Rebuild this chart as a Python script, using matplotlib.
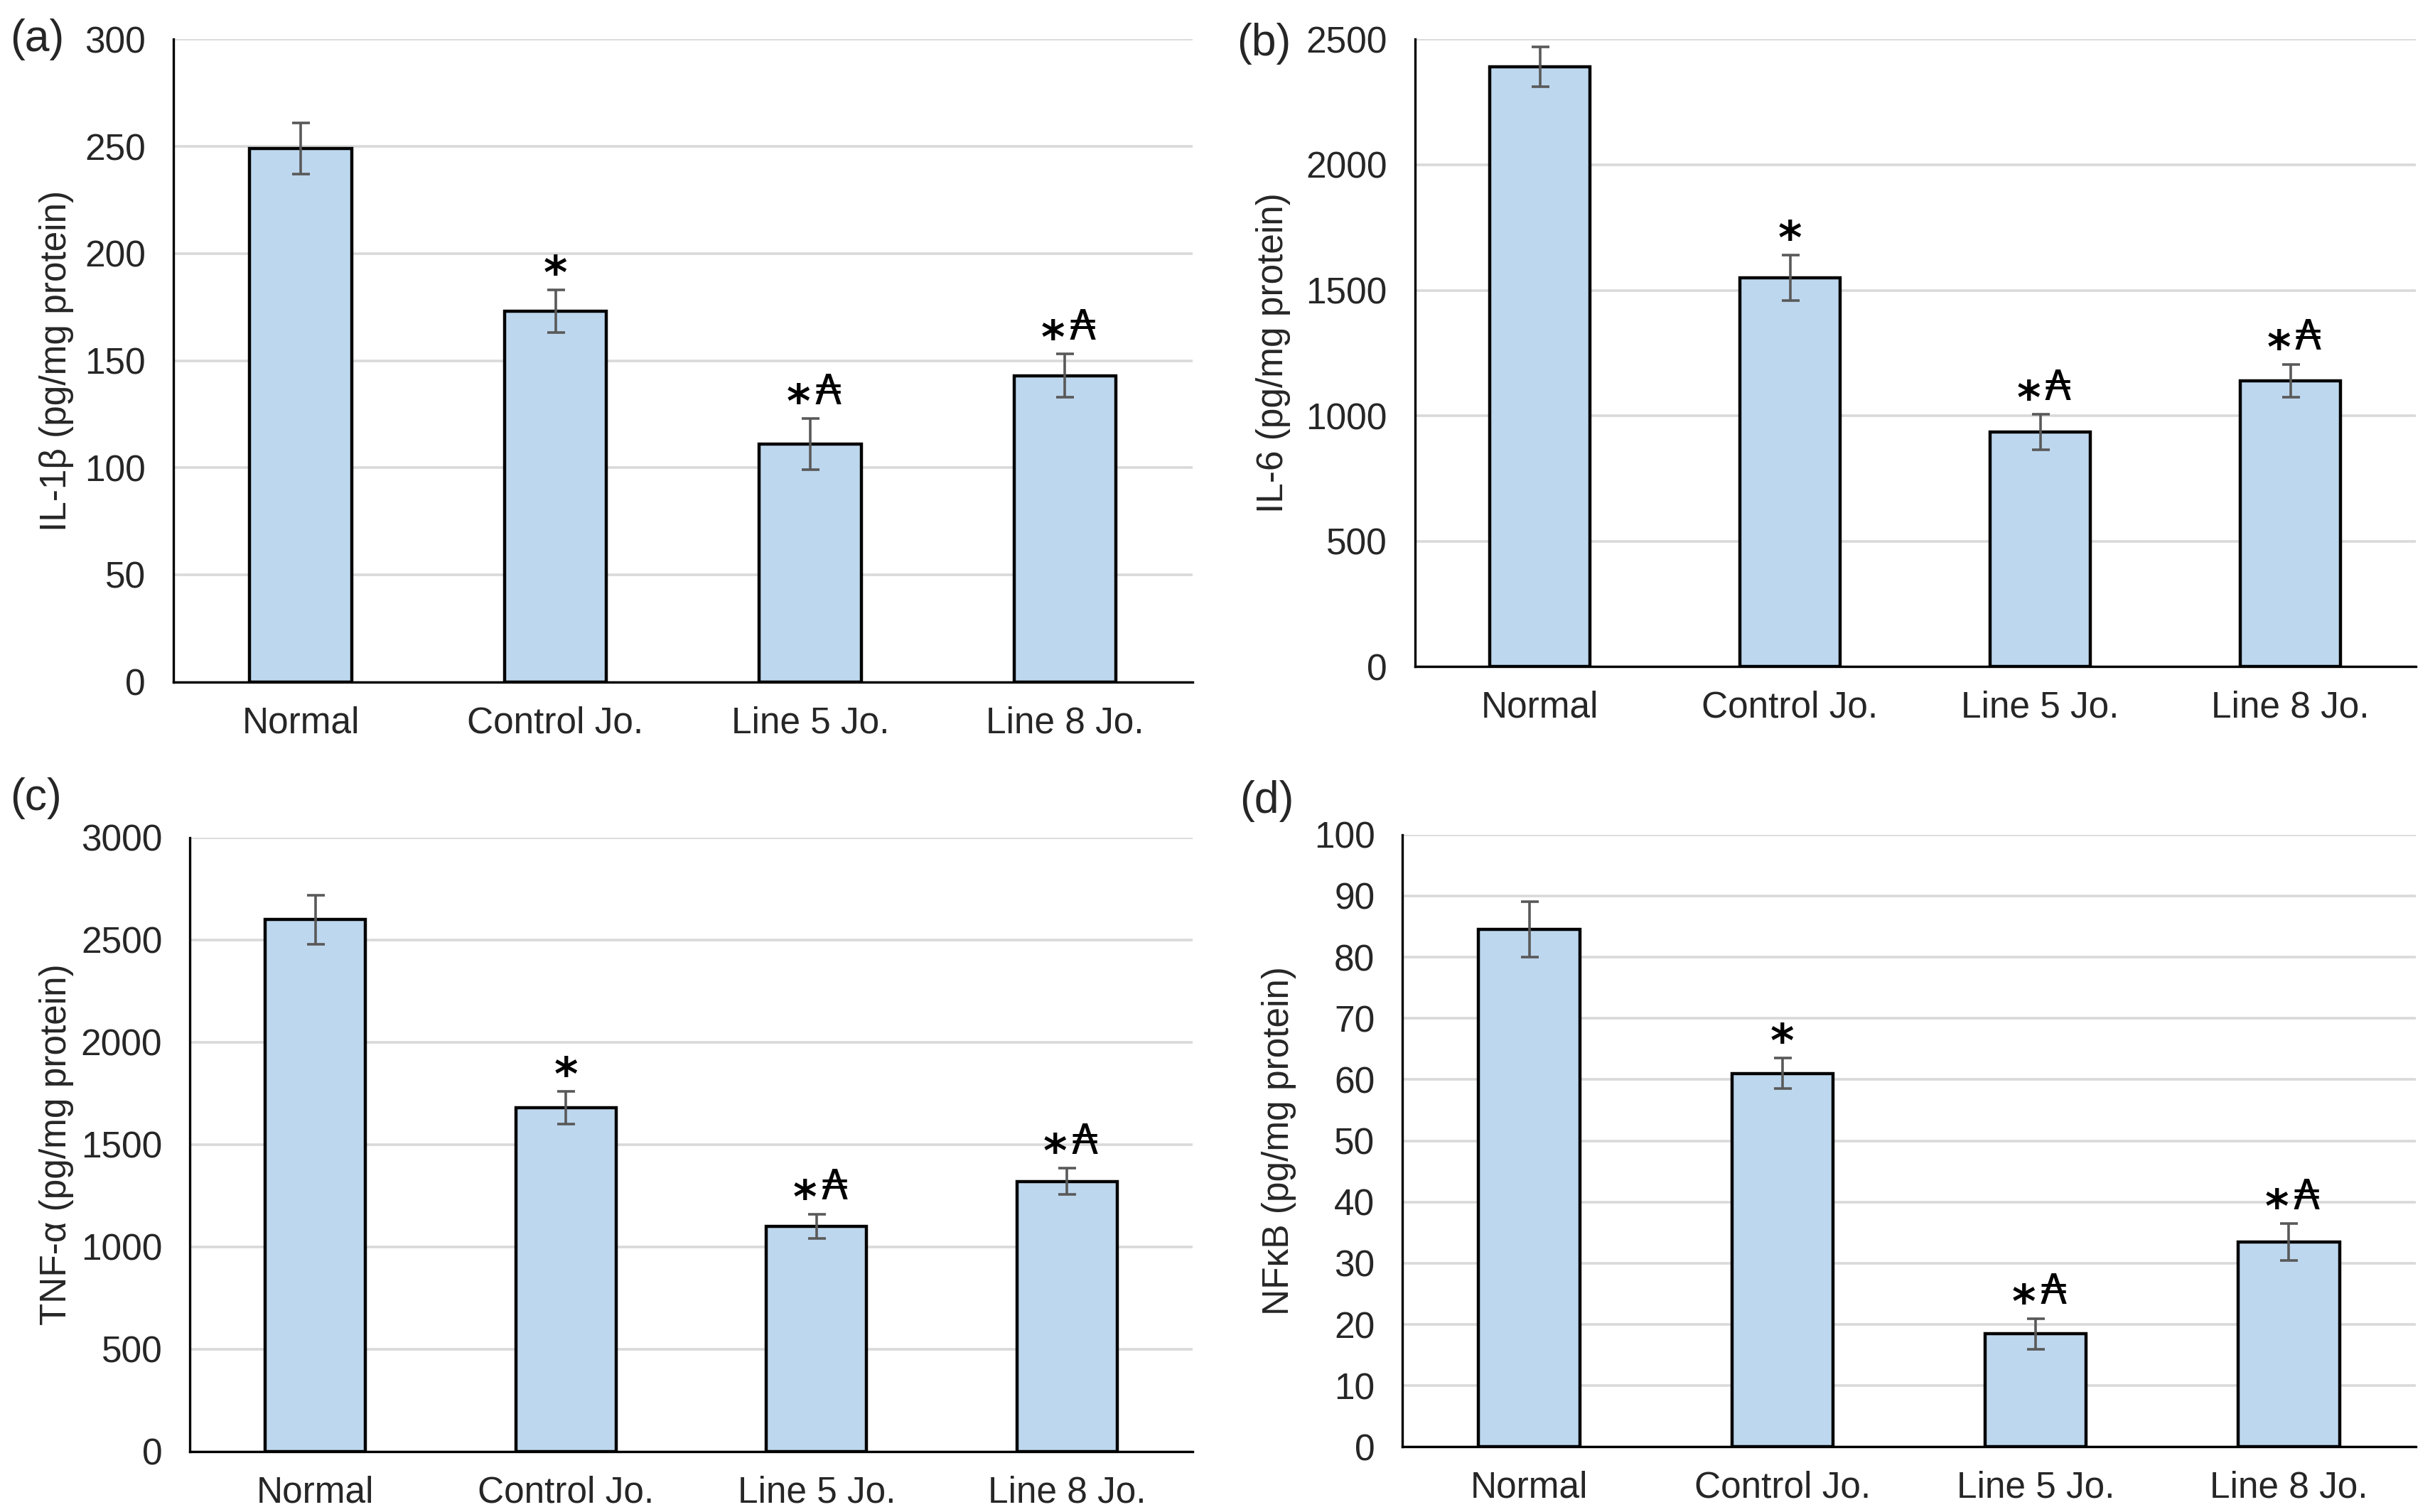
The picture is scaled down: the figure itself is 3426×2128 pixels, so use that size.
import matplotlib
matplotlib.use('Agg')
import matplotlib.pyplot as plt

plt.rcParams['font.family'] = ['Liberation Sans', 'DejaVu Sans']

groups = ['Normal', 'Control Jo.', 'Line 5 Jo.', 'Line 8 Jo.']

il1b = [249, 173, 111, 143]
il1b_err = [12, 10, 12, 10]
il6 = [2390, 1550, 935, 1140]
il6_err = [80, 90, 70, 65]
tnf = [2600, 1680, 1100, 1320]
tnf_err = [120, 80, 60, 65]
nfkb = [84.5, 61, 18.5, 33.5]
nfkb_err = [4.5, 2.5, 2.5, 3]

stars = [False, True, True, True]
austral = [False, False, True, True]

panels = [
    # label, ylabel, values, errors, ymax, step, axes rect, label pos, ylabel x
    ('(a)', 'IL-1\u03b2 (pg/mg protein)', il1b, il1b_err, 300, 50,
     [0.0712, 0.549, 0.4185, 0.425], (0.004, 0.974), 0.0304),
    ('(b)', 'IL-6 (pg/mg protein)', il6, il6_err, 2500, 500,
     [0.581, 0.559, 0.411, 0.415], (0.508, 0.971), 0.530),
    ('(c)', 'TNF-\u03b1 (pg/mg protein)', tnf, tnf_err, 3000, 500,
     [0.078, 0.040, 0.4117, 0.406], (0.004, 0.472), 0.0304),
    ('(d)', 'NF\u03baB (pg/mg protein)', nfkb, nfkb_err, 100, 10,
     [0.576, 0.043, 0.416, 0.405], (0.509, 0.470), 0.5325),
]

fig = plt.figure(figsize=(17.13, 10.64), dpi=200)
fs = 18.5
tc = '#262626'

for lab, ylab, vals, errs, ymax, step, rect, lpos, ylx in panels:
    ax = fig.add_axes(rect)
    x = range(len(groups))
    ax.bar(x, vals, width=0.4, color='#bdd7ee', edgecolor='black', linewidth=1.6, zorder=3)
    ax.errorbar(x, vals, yerr=errs, fmt='none', ecolor='#595959', elinewidth=1.3,
                capsize=4.5, capthick=1.3, zorder=4)
    ax.set_xlim(-0.5, 3.5)
    ax.set_ylim(0, ymax)
    ax.set_yticks(list(range(0, ymax + 1, step)))
    ax.yaxis.grid(True, color='#d9d9d9', linewidth=1.3, zorder=0)
    ax.set_axisbelow(True)
    ax.set_xticks(list(x))
    ax.set_xticklabels(groups)
    ax.tick_params(axis='both', length=0, labelsize=fs, colors=tc)
    ax.tick_params(axis='x', pad=12)
    ax.tick_params(axis='y', pad=14)
    for s in ['top', 'right']:
        ax.spines[s].set_visible(False)
    ax.spines['left'].set_linewidth(1.2)
    ax.spines['bottom'].set_linewidth(1.2)
    ax.set_ylabel(ylab, fontsize=fs, color=tc)
    ax.yaxis.set_label_coords(ylx, rect[1] + rect[3] / 2, transform=fig.transFigure)
    fig.text(lpos[0], lpos[1], lab, fontsize=fs + 4, color=tc, va='center', ha='left')
    for i in range(len(groups)):
        top = vals[i] + errs[i]
        if stars[i]:
            dx = -6 if austral[i] else 0
            ax.annotate('*', (i, top), xytext=(dx, -4), textcoords='offset points',
                        ha='center', va='bottom', fontsize=23, fontweight='bold',
                        color='black', family=['DejaVu Sans'])
        if austral[i]:
            ax.annotate('\u20b3', (i, top), xytext=(9, 3), textcoords='offset points',
                        ha='center', va='bottom', fontsize=21,
                        color='black', family=['DejaVu Sans'])

fig.savefig('out.png', dpi=200)
